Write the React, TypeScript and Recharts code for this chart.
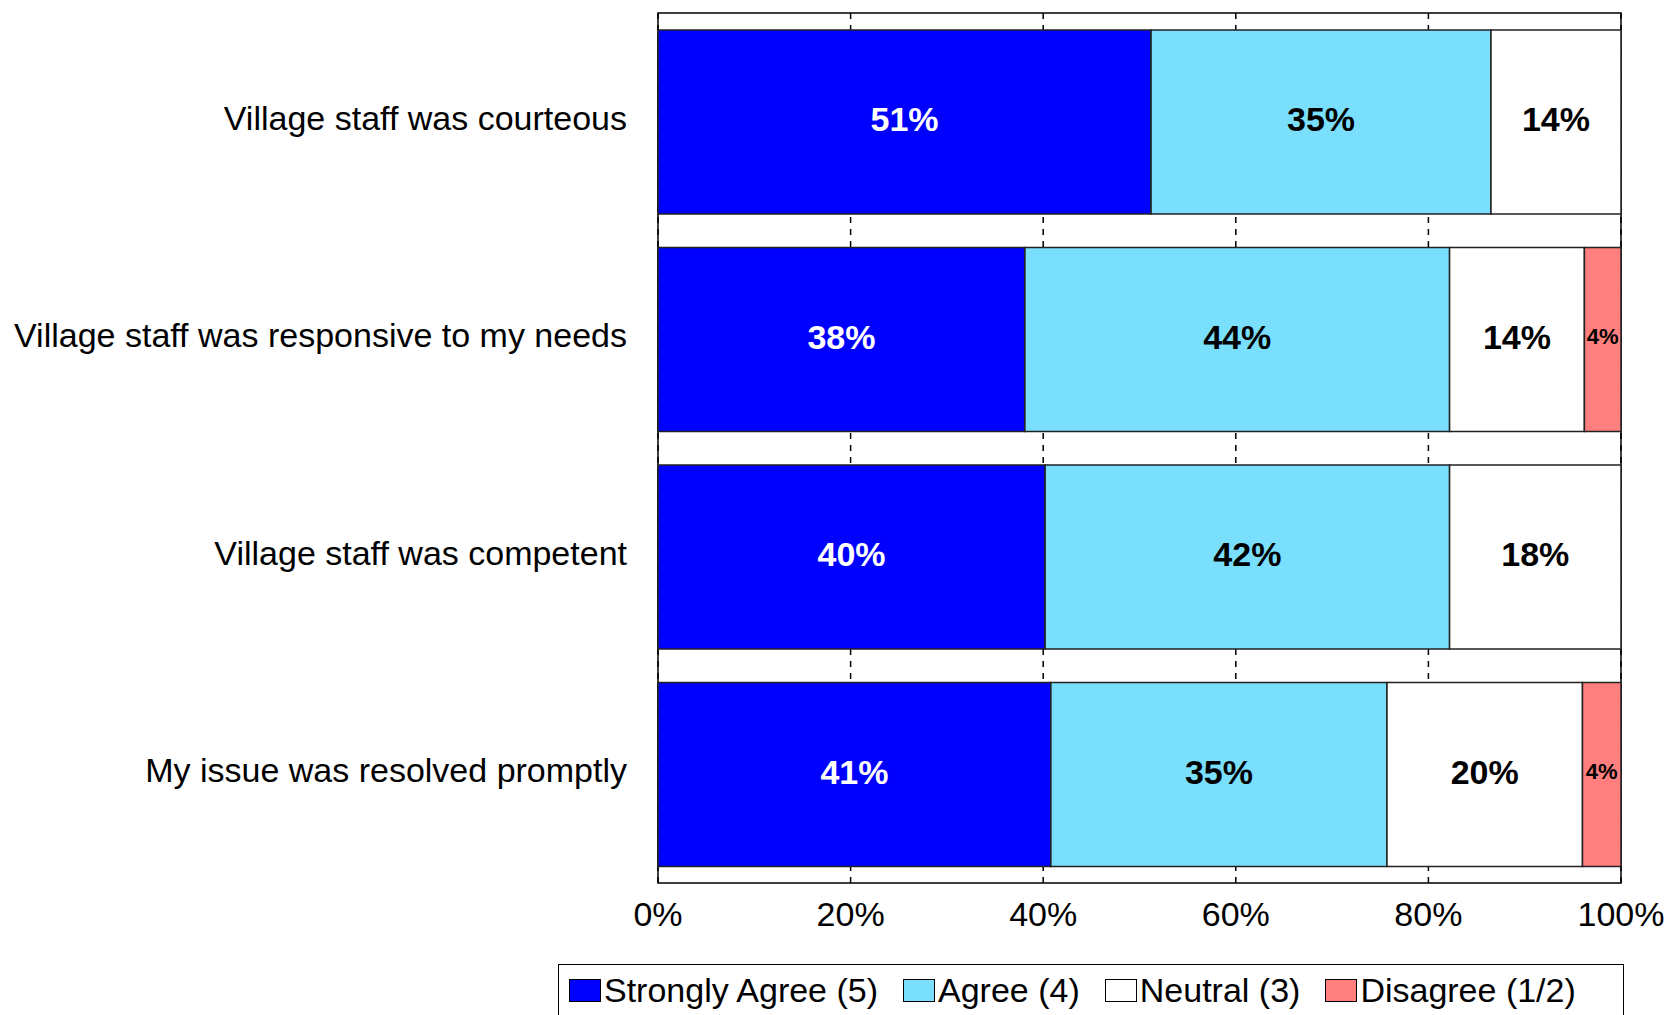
import { BarChart, Bar, XAxis, YAxis, CartesianGrid, LabelList, ReferenceArea } from "recharts";

const statements = [
  "Village staff was courteous",
  "Village staff was responsive to my needs",
  "Village staff was competent",
  "My issue was resolved promptly",
];

// share of responses in percent
const stronglyAgree = [51.2, 38.1, 40.2, 40.8];
const agree = [35.3, 44.1, 42.0, 34.9];
const neutral = [13.5, 14.0, 17.8, 20.3];
const disagree = [0, 3.8, 0, 4.0];

const xTicks = [0, 20, 40, 60, 80, 100];

const series = [
  { key: "stronglyAgree", name: "Strongly Agree (5)", fill: "#0000ff", text: "#ffffff" },
  { key: "agree", name: "Agree (4)", fill: "#79dffd", text: "#000000" },
  { key: "neutral", name: "Neutral (3)", fill: "#ffffff", text: "#000000" },
  { key: "disagree", name: "Disagree (1/2)", fill: "#ff7f7f", text: "#000000" },
];

const data = statements.map((s, i) => ({
  statement: s,
  stronglyAgree: stronglyAgree[i],
  agree: agree[i],
  neutral: neutral[i],
  disagree: disagree[i],
}));

const FONT = "'Liberation Sans', Arial, sans-serif";

function makeLabel(color: string) {
  return (props: any) => {
    const { x, y, width, height, value } = props;
    if (!value) return null;
    const small = width < 60;
    return (
      <text
        x={x + width / 2}
        y={y + height / 2 - 3}
        textAnchor="middle"
        dominantBaseline="central"
        fill={color}
        fontFamily={FONT}
        fontWeight="bold"
        fontSize={small ? 22 : 34}
      >
        {Math.round(value)}%
      </text>
    );
  };
}

function Legend() {
  return (
    <div
      style={{
        position: "absolute",
        left: 558,
        top: 964,
        width: 1066,
        height: 70,
        border: "1.5px solid #000",
        boxSizing: "border-box",
        fontFamily: FONT,
        fontSize: 34,
        color: "#000",
        display: "flex",
        alignItems: "flex-start",
        paddingLeft: 10,
        paddingTop: 5,
      }}
    >
      {series.map((s) => (
        <div key={s.key} style={{ display: "flex", alignItems: "center", marginRight: 25, lineHeight: "40px" }}>
          <span
            style={{
              display: "inline-block",
              width: 32,
              height: 23,
              background: s.fill,
              border: "1.5px solid #000",
              boxSizing: "border-box",
              marginRight: 3,
            }}
          />
          <span>{s.name}</span>
        </div>
      ))}
    </div>
  );
}

export default function App() {
  return (
    <div style={{ position: "absolute", left: 0, top: 0, width: 1669, height: 1015, overflow: "hidden", background: "#fff" }}>
      <BarChart
        width={1669}
        height={1015}
        data={data}
        layout="vertical"
        margin={{ top: 13, right: 48, bottom: 0, left: 0 }}
        barSize={184}
      >
        <CartesianGrid horizontal={false} stroke="#000" strokeWidth={1.5} strokeDasharray="6 6" />
        <XAxis
          type="number"
          domain={[0, 100]}
          ticks={xTicks}
          tickFormatter={(v) => `${v}%`}
          axisLine={false}
          tickLine={false}
          height={132}
          tickMargin={13}
          tick={{ fill: "#000", fontSize: 34, fontFamily: FONT }}
          interval={0}
        />
        <YAxis
          type="category"
          dataKey="statement"
          width={658}
          axisLine={false}
          tickLine={false}
          tickMargin={25}
          tick={{ fill: "#000", fontSize: 34, fontFamily: FONT, dy: -4 }}
          interval={0}
        />
        {series.map((s) => (
          <Bar
            key={s.key}
            dataKey={s.key}
            name={s.name}
            stackId="a"
            fill={s.fill}
            stroke="#222"
            strokeWidth={1.5}
            isAnimationActive={false}
          >
            <LabelList dataKey={s.key} content={makeLabel(s.text)} />
          </Bar>
        ))}
        <ReferenceArea x1={0} x2={100} fill="none" stroke="#000" strokeWidth={1.5} ifOverflow="visible" />
      </BarChart>
      <Legend />
    </div>
  );
}
